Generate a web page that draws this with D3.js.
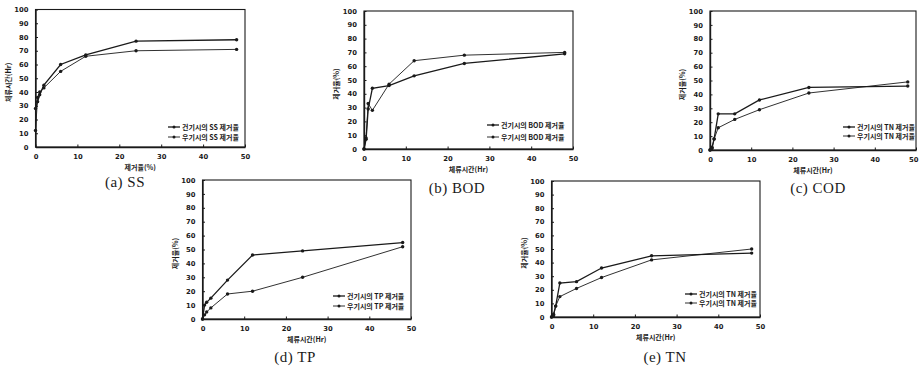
<!DOCTYPE html>
<html><head><meta charset="utf-8">
<script src="https://cdn.jsdelivr.net/npm/d3@7"></script>
<style>
html,body{margin:0;padding:0;background:#fff;}
svg{display:block;}
.tick text{font-family:"DejaVu Sans",sans-serif;font-weight:bold;}
</style></head>
<body>
<svg id="c" width="919" height="368"></svg>
<script>
// ---- data ----
const hours = [0, 0.5, 1, 2, 6, 12, 24, 48];
const xTicks = [0, 10, 20, 30, 40, 50];
const yTicks = [0, 10, 20, 30, 40, 50, 60, 70, 80, 90, 100];

const ssDry = [28, 33, 38, 45, 60, 67, 77, 78];
const ssWet = [12, 36, 40, 43, 55, 66, 70, 71];
const bodDry = [0, 7, 29, 44, 46, 53, 62, 69];
const bodWet = [0, 8, 33, 28, 47, 64, 68, 70];
const codDry = [0, 2, 8, 26, 26, 36, 45, 46];
const codWet = [0, 1, 8, 16, 22, 29, 41, 49];
const tpDry = [0, 10, 12, 15, 28, 46, 49, 55];
const tpWet = [0, 3, 5, 8, 18, 20, 30, 52];
const tnDry = [0, 2, 8, 25, 26, 36, 45, 47];
const tnWet = [0, 1, 8, 15, 21, 29, 42, 50];

const captions = ["(a) SS", "(b) BOD", "(c) COD", "(d) TP", "(e) TN"];
const yTitles = ["체류시간(Hr)", "제거율(%)", "제거율(%)", "제거율(%)", "제거율(%)"];
const xTitles = ["제거율(%)", "체류시간(Hr)", "체류시간(Hr)", "체류시간(Hr)", "체류시간(Hr)"];
const legendDry = ["건기시의 SS 제거율", "건기시의 BOD 제거율", "건기시의 TN 제거율", "건기시의 TP 제거율", "건기시의 TN 제거율"];
const legendWet = ["우기시의 SS 제거율", "우기시의 BOD 제거율", "우기시의 TN 제거율", "우기시의 TP 제거율", "우기시의 TN 제거율"];
const seriesDry = [ssDry, bodDry, codDry, tpDry, tnDry];
const seriesWet = [ssWet, bodWet, codWet, tpWet, tnWet];

// ---- layout ----
const panels = [
  {l: 35.5, r: 245, t: 9.5, b: 147, capX: 125, capY: 187, lgX: 168, lgY1: 127, lgY2: 137},
  {l: 364, r: 573, t: 11, b: 149, capX: 457, capY: 193, lgX: 487, lgY1: 125, lgY2: 137},
  {l: 710, r: 916, t: 11, b: 150, capX: 818, capY: 193, lgX: 843, lgY1: 127, lgY2: 136},
  {l: 202.5, r: 411, t: 180, b: 319, capX: 295, capY: 362, lgX: 333, lgY1: 296, lgY2: 306},
  {l: 551.5, r: 760, t: 181, b: 317, capX: 665, capY: 362, lgX: 685, lgY1: 294, lgY2: 303}
];

const svg = d3.select("#c");
const ink = "#1a1a1a";
const kfont = "'Noto Sans CJK KR', sans-serif";

panels.forEach((p, i) => {
  const x = d3.scaleLinear().domain([0, 50]).range([p.l, p.r]);
  const y = d3.scaleLinear().domain([0, 100]).range([p.b, p.t]);
  const g = svg.append("g");

  // frame
  g.append("rect").attr("x", p.l).attr("y", p.t).attr("width", p.r - p.l).attr("height", p.b - p.t)
    .attr("fill", "none").attr("stroke", ink).attr("stroke-width", 1.1);

  const xa = g.append("g").attr("transform", `translate(0,${p.b})`)
    .call(d3.axisBottom(x).tickValues(xTicks).tickSizeInner(-2.5).tickSizeOuter(0).tickPadding(7));
  const ya = g.append("g").attr("transform", `translate(${p.l},0)`)
    .call(d3.axisLeft(y).tickValues(yTicks).tickSizeInner(-2.5).tickSizeOuter(0).tickPadding(7));
  [xa, ya].forEach(a => {
    a.select(".domain").attr("stroke", ink).attr("stroke-width", 1.4);
    a.selectAll(".tick line").attr("stroke", ink);
    a.selectAll(".tick text").attr("fill", ink).attr("font-size", 6.8);
  });
  // keep the last x label inside the page when the panel touches the right edge
  xa.selectAll(".tick text").filter(d => x(d) + 5 > 919).attr("text-anchor", "end").attr("dx", 919 - 1 - p.r);

  // titles
  g.append("text").attr("x", (p.l + p.r) / 2).attr("y", p.b + 23).attr("text-anchor", "middle")
    .attr("font-family", kfont).attr("font-weight", "bold").attr("font-size", 7).attr("fill", ink).text(xTitles[i]);
  g.append("text").attr("transform", `translate(${p.l - 25},${(p.t + p.b) / 2 + 4}) rotate(-90)`)
    .attr("text-anchor", "middle").attr("font-family", kfont).attr("font-weight", "bold")
    .attr("font-size", 7).attr("fill", ink).text(yTitles[i]);

  // series
  const line = d3.line().x((d, j) => x(hours[j])).y(d => y(d));
  [[seriesDry[i], 1.3], [seriesWet[i], 0.9]].forEach(([s, w]) => {
    g.append("path").datum(s).attr("d", line).attr("fill", "none").attr("stroke", ink).attr("stroke-width", w);
    g.selectAll(null).data(s).enter().append("circle")
      .attr("cx", (d, j) => x(hours[j])).attr("cy", d => y(d)).attr("r", 1.7).attr("fill", ink);
  });

  // legend
  [[p.lgY1, legendDry[i], 1.3], [p.lgY2, legendWet[i], 0.9]].forEach(([ly, txt, w]) => {
    g.append("line").attr("x1", p.lgX).attr("x2", p.lgX + 12).attr("y1", ly).attr("y2", ly)
      .attr("stroke", ink).attr("stroke-width", w);
    g.append("circle").attr("cx", p.lgX + 6).attr("cy", ly).attr("r", 1.5).attr("fill", ink);
    g.append("text").attr("x", p.lgX + 14).attr("y", ly + 2.5).attr("font-family", kfont)
      .attr("font-weight", "bold").attr("font-size", 7).attr("fill", ink).text(txt);
  });

  // caption
  svg.append("text").attr("x", p.capX).attr("y", p.capY).attr("text-anchor", "middle")
    .attr("font-family", "'Liberation Serif', serif").attr("font-size", 15).attr("letter-spacing", 0.5)
    .attr("fill", ink).text(captions[i]);
});
</script>
</body></html>
